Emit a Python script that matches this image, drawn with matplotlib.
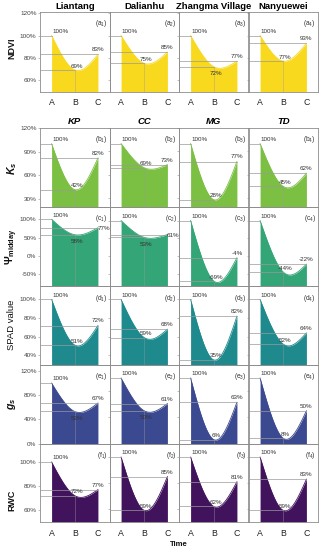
import numpy as np
import matplotlib
matplotlib.use('Agg')
import matplotlib.pyplot as plt

plt.rcParams['font.family'] = ['Liberation Sans', 'DejaVu Sans']
plt.rcParams['mathtext.fontset'] = 'custom'
plt.rcParams['mathtext.rm'] = 'Liberation Sans'
plt.rcParams['mathtext.it'] = 'Liberation Sans:bold:italic'
plt.rcParams['mathtext.bf'] = 'Liberation Sans:bold'

# data (relative to time A = 100 %)
times = ['A', 'B', 'C']
sites = ['Liantang', 'Dalianhu', 'Zhangma Village', 'Nanyuewei']
species = ['KP', 'CC', 'MG', 'TD']

ndvi = [[100, 69, 83], [100, 75, 85], [100, 72, 77], [100, 77, 93]]
ks = [[100, 42, 82], [100, 69, 73], [100, 28, 77], [100, 45, 62]]
psi = [[100, 58, 77], [100, 53, 61], [100, -69, -4], [100, -44, -22]]
spad = [[100, 51, 72], [100, 59, 68], [100, 35, 82], [100, 52, 64]]
gs = [[100, 53, 67], [100, 50, 61], [100, 6, 63], [100, 8, 50]]
rwc = [[100, 72, 77], [100, 59, 85], [100, 62, 81], [100, 59, 83]]

rows = [
    dict(data=ndvi, letter='a', color='#F9D91E', ticks=[60, 80, 100, 120],
         ylim=[(49.5, 121.4)] * 4, label='NDVI', ly=48, weight='bold', fs=6.5),
    dict(data=ks, letter='b', color='#7CC043', ticks=[30, 60, 90, 120],
         ylim=[(20, 120)] + [(18.6, 115.6)] * 3, label='$K_s$', ly=168, weight='bold', fs=7.6),
    dict(data=psi, letter='c', color='#33A577', ticks=[-50, 0, 50, 100],
         ylim=[(-81.7, 133.5)] + [(-83, 138)] * 3, label='Ψ$_{\\mathbf{midday}}$', ly=247,
         weight='bold', fs=7.6),
    dict(data=spad, letter='d', color='#1E8A8E', ticks=[40, 60, 80, 100],
         ylim=[(29.5, 114.5)] * 4, label='SPAD value', ly=325, weight='normal', fs=6.8),
    dict(data=gs, letter='e', color='#3B4990', ticks=[0, 40, 80, 120],
         ylim=[(0, 130)] + [(0, 119.4)] * 3, label='$g_s$', ly=404, weight='bold', fs=7.6),
    dict(data=rwc, letter='f', color='#42135D', ticks=[60, 80, 100],
         ylim=[(50, 115.5)] + [(50, 110.5)] * 3, label='RWC', ly=500, weight='bold', fs=6.5),
]

# panels where the B label sits under the curve, and C label to the right
b_below = {(0, 2), (2, 0), (2, 1), (4, 0), (4, 1)}
c_right = {(2, 0), (2, 1)}

W, H = 320, 550
col_x = [40, 109.5, 179, 248.5, 318]
row_y = [(11.7, 91.7), (128, 207), (207, 286), (286, 365), (365, 443.5), (443.5, 522)]
grey = '#9a9a9a'
txt = '#333333'


def smooth(yv, n=60):
    # natural cubic spline through the three points
    y0, y1, y2 = yv
    m1 = 1.5 * (y0 - 2 * y1 + y2)
    t = np.linspace(0, 1, n)
    left = m1 * t ** 3 / 6 + y0 * (1 - t) + (y1 - m1 / 6) * t
    right = m1 * (1 - t) ** 3 / 6 + (y1 - m1 / 6) * (1 - t) + y2 * t
    return np.concatenate([t, 1 + t[1:]]), np.concatenate([left, right[1:]])


fig = plt.figure(figsize=(W / 100, H / 100), dpi=100, facecolor='white')

for r, row in enumerate(rows):
    top, bot = row_y[r]
    for c in range(4):
        x0, x1 = col_x[c], col_x[c + 1]
        ax = fig.add_axes([x0 / W, 1 - bot / H, (x1 - x0) / W, (bot - top) / H])
        ax.set_facecolor('none')
        lo, hi = row['ylim'][c]
        ax.set_xlim(-0.5, 2.5)
        ax.set_ylim(lo, hi)
        yv = row['data'][c]
        xs, ys = smooth(yv)
        ax.fill_between(xs, ys, lo, color=row['color'], lw=0, zorder=1)
        ax.plot(xs, ys, color=row['color'], lw=0.6, zorder=2)

        # guide lines
        for xi, yi in zip([0, 1, 2], yv):
            ax.plot([-0.5, xi], [yi, yi], color=grey, lw=0.5, zorder=3)
        ax.plot([1, 1], [lo, yv[1]], color=grey, lw=0.4, alpha=0.7, zorder=3)

        # value labels
        fs = 4.5
        ax.annotate(f'{yv[0]}%', (0, yv[0]), xytext=(0.3, 1.2), textcoords='offset points',
                    ha='left', va='bottom', fontsize=fs, color=txt, zorder=4)
        if (r, c) in b_below:
            ax.annotate(f'{yv[1]}%', (1, yv[1]), xytext=(1.5, -5), textcoords='offset points',
                        ha='center', va='center', fontsize=fs, color=txt, zorder=4)
        else:
            ax.annotate(f'{yv[1]}%', (1, yv[1]), xytext=(1.5, 1.0), textcoords='offset points',
                        ha='center', va='bottom', fontsize=fs, color=txt, zorder=4)
        if (r, c) in c_right:
            ax.annotate(f'{yv[2]}%', (2, yv[2]), xytext=(-0.5, -0.8), textcoords='offset points',
                        ha='left', va='center', fontsize=fs, color=txt, zorder=4,
                        annotation_clip=False)
        else:
            ax.annotate(f'{yv[2]}%', (2, yv[2]), xytext=(0, 1.5), textcoords='offset points',
                        ha='center', va='bottom', fontsize=fs, color=txt, zorder=4)

        ax.text(0.97, 1 - 12 / (bot - top), f'({row["letter"]}$_{c + 1}$)', transform=ax.transAxes,
                ha='right', va='center', fontsize=4.8, color=txt)

        # axes styling
        for s in ax.spines.values():
            s.set_color('#8c8c8c')
            s.set_linewidth(0.6)
        ax.set_yticks(row['ticks'])
        ax.tick_params(axis='y', length=1.5, width=0.4, color='#8c8c8c', pad=1,
                       labelsize=4.6, labelcolor='#444444')
        if c == 0:
            ax.set_yticklabels([f'{t}%' for t in row['ticks']])
        else:
            ax.set_yticklabels([])
        ax.set_xticks([0, 1, 2])
        if r in (0, len(rows) - 1):
            ax.set_xticklabels(times)
            ax.tick_params(axis='x', length=0, pad=4.2 if r == 0 else 5.2,
                           labelsize=6.3, labelcolor='#222222')
        else:
            ax.set_xticklabels([])
            ax.tick_params(axis='x', length=0)

        if r == 0:
            ax.set_title(sites[c], fontsize=6.8, fontweight='bold', pad=1.6)
        elif r == 1:
            ax.set_title(species[c], fontsize=6.8, fontweight='bold', style='italic', pad=2.9)

    fig.text(12 / W, 1 - row['ly'] / H, row['label'], rotation=90, ha='center', va='center',
             fontsize=row['fs'], fontweight=row['weight'], color='#111111')

fig.text(179 / W, 1 - 545 / H, 'Time', ha='center', va='center', fontsize=5.6,
         fontweight='bold', color='#111111')

fig.savefig('out.png', dpi=100, facecolor='white')
